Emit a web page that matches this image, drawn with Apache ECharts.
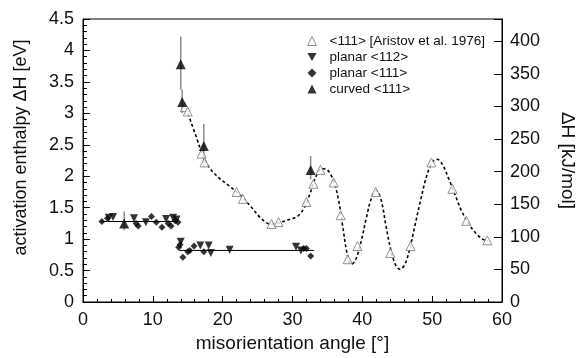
<!DOCTYPE html>
<html>
<head>
<meta charset="utf-8">
<script src="https://cdn.jsdelivr.net/npm/echarts@6/dist/echarts.min.js"></script>
<style>
  html, body { margin: 0; padding: 0; background: #fff; }
  #chart { width: 585px; height: 358px; }
</style>
</head>
<body>
<div id="chart"></div>
<script>
// <111> Aristov et al. 1976 (open triangles)
const aristovX = [14.6, 15.0, 17.0, 17.4, 22.0, 22.9, 27.0, 28.0, 32.0, 33.0, 34.0, 35.9, 36.9, 37.9, 39.3, 41.9, 44.0, 46.9, 49.9, 52.9, 54.9, 57.9];
const aristovY = [3.10, 3.03, 2.36, 2.22, 1.75, 1.64, 1.24, 1.27, 1.59, 1.88, 2.10, 1.90, 1.38, 0.68, 0.89, 1.75, 0.78, 0.89, 2.22, 1.80, 1.29, 0.98];

// dashed guide curve through the Aristov data
const fitX = [14.8, 15.5, 16.3, 17.0, 18.0, 19.5, 21.0, 22.5, 24.0, 25.5, 26.8, 28.0, 29.5, 30.8, 31.7, 32.5, 33.3, 34.2, 35.0, 35.9, 36.6, 37.2, 37.8, 38.4, 39.0, 39.8, 40.6, 41.3, 42.0, 42.7, 43.4, 44.1, 44.8, 45.4, 46.1, 46.8, 47.5, 48.3, 49.2, 50.0, 50.7, 51.5, 52.4, 53.3, 54.2, 55.2, 56.2, 57.2, 58.0];
const fitY = [3.08, 2.85, 2.60, 2.38, 2.15, 1.97, 1.84, 1.70, 1.52, 1.33, 1.24, 1.26, 1.31, 1.37, 1.50, 1.72, 1.98, 2.12, 2.10, 1.92, 1.62, 1.20, 0.78, 0.60, 0.66, 0.95, 1.35, 1.65, 1.77, 1.62, 1.20, 0.82, 0.58, 0.52, 0.60, 0.85, 1.20, 1.60, 2.00, 2.22, 2.27, 2.18, 1.95, 1.70, 1.45, 1.25, 1.10, 1.00, 0.97];

// planar <112> (down triangles)
const p112X = [3.7, 4.3, 7.3, 9.0, 11.9, 12.9, 13.4, 14.0, 16.8, 18.0, 18.3, 21.0, 30.5, 31.2];
const p112Y = [1.34, 1.35, 1.33, 1.27, 1.32, 1.34, 1.31, 0.96, 0.90, 0.90, 0.78, 0.83, 0.88, 0.82];

// planar <111> (diamonds)
const p111X = [2.7, 3.5, 7.6, 7.9, 9.8, 10.5, 11.3, 12.2, 12.6, 13.2, 13.6, 13.7, 13.9, 14.3, 15.0, 15.3, 15.9, 17.3, 31.6, 32.0, 32.6];
const p111Y = [1.28, 1.33, 1.25, 1.21, 1.36, 1.27, 1.19, 1.25, 1.21, 1.29, 1.27, 0.87, 0.91, 0.71, 0.80, 0.82, 0.89, 0.80, 0.85, 0.85, 0.73];

// mean levels of the planar boundaries
const levelLow = [[2.6, 1.28], [13.6, 1.28]];
const levelHigh = [[13.8, 0.82], [33.1, 0.82]];

// curved <111> (filled triangles) with error bars
const curvedX = [14.0, 14.2, 17.3, 5.9, 32.6];
const curvedY = [3.78, 3.18, 2.48, 1.25, 2.10];
const curvedLo = [3.38, 3.00, 2.15, 1.14, 1.95];
const curvedHi = [4.22, 3.38, 2.83, 1.44, 2.32];

const EV_TO_KJ = 96.485;
const font = 'Liberation Sans, Arial, sans-serif';
const downTri = 'path://M0,0 L10,0 L5,9 Z';

const zip = (xs, ys) => xs.map((x, i) => [x, ys[i]]);

const myEcharts = echarts.init(document.getElementById('chart'));
const option = {
    animation: false,
    textStyle: { fontFamily: font },
    grid: {
        left: 83,
        right: 76,
        top: 19,
        bottom: 54,
        show: true,
        borderColor: '#000',
        borderWidth: 1
    },
    legend: {
        orient: 'vertical',
        left: 307,
        top: 34,
        itemWidth: 9,
        itemHeight: 9,
        itemGap: 2,
        padding: 0,
        textStyle: { fontSize: 13.5, color: '#111', lineHeight: 14, fontFamily: font, padding: [0, 0, 0, 8] },
        data: [
            { name: '<111> [Aristov et al. 1976]', icon: 'triangle', itemStyle: { color: '#fff', borderColor: '#777', borderWidth: 1 } },
            { name: 'planar <112>', icon: downTri, itemStyle: { color: '#000' } },
            { name: 'planar <111>', icon: 'diamond', itemStyle: { color: '#000' } },
            { name: 'curved <111>', icon: 'triangle', itemStyle: { color: '#000' } }
        ]
    },
    xAxis: {
        type: 'value',
        min: 0,
        max: 60,
        interval: 10,
        name: 'misorientation angle [°]',
        nameLocation: 'middle',
        nameGap: 32,
        nameTextStyle: { fontSize: 19, color: '#111', fontFamily: font },
        axisLine: { lineStyle: { color: '#000' } },
        axisTick: { inside: true, length: 6, lineStyle: { color: '#000' } },
        minorTick: { show: true, splitNumber: 5, length: 3, lineStyle: { color: '#000' } },
        splitLine: { show: false },
        axisLabel: { fontSize: 18, color: '#111', margin: 9, fontFamily: font }
    },
    yAxis: [
        {
            type: 'value',
            min: 0,
            max: 4.5,
            interval: 0.5,
            name: 'activation enthalpy ΔH [eV]',
            nameLocation: 'middle',
            nameRotate: 90,
            nameGap: 53,
            nameTextStyle: { fontSize: 18, color: '#111', fontFamily: font, padding: [0, 0, 0, 26] },
            axisLine: { lineStyle: { color: '#000' } },
            axisTick: { inside: true, length: 7, lineStyle: { color: '#000' } },
            minorTick: { show: true, splitNumber: 5, length: 4, lineStyle: { color: '#000' } },
            splitLine: { show: false },
            axisLabel: { fontSize: 18, color: '#111', margin: 9, fontFamily: font }
        },
        {
            type: 'value',
            position: 'right',
            min: 0,
            max: 4.5 * EV_TO_KJ,
            interval: 50,
            name: 'ΔH [kJ/mol]',
            nameLocation: 'middle',
            nameRotate: -90,
            nameGap: 56,
            nameTextStyle: { fontSize: 19, color: '#111', fontFamily: font },
            axisLine: { lineStyle: { color: '#000' } },
            axisTick: { inside: true, length: 8, lineStyle: { color: '#000' } },
            splitLine: { show: false },
            axisLabel: {
                fontSize: 18,
                color: '#111',
                margin: 8,
                fontFamily: font,
                formatter: v => (Math.abs(v % 50) < 1e-6 ? String(v) : '')
            }
        }
    ],
    series: [
        {
            name: 'fit',
            type: 'line',
            data: zip(fitX, fitY),
            smooth: 0.35,
            symbol: 'none',
            lineStyle: { color: '#000', width: 1.6, type: [3, 2.5] },
            z: 2
        },
        {
            name: 'levelLow',
            type: 'line',
            data: levelLow,
            symbol: 'none',
            lineStyle: { color: '#000', width: 1 },
            z: 2
        },
        {
            name: 'levelHigh',
            type: 'line',
            data: levelHigh,
            symbol: 'none',
            lineStyle: { color: '#000', width: 1 },
            z: 2
        },
        {
            name: 'errorbars',
            type: 'custom',
            data: curvedX.map((x, i) => [x, curvedLo[i], curvedHi[i]]),
            renderItem: (params, api) => {
                const lo = api.coord([api.value(0), api.value(1)]);
                const hi = api.coord([api.value(0), api.value(2)]);
                return {
                    type: 'line',
                    shape: { x1: lo[0], y1: lo[1], x2: hi[0], y2: hi[1] },
                    style: { stroke: '#8a8a8a', lineWidth: 1.5 }
                };
            },
            z: 3
        },
        {
            name: '<111> [Aristov et al. 1976]',
            type: 'scatter',
            data: zip(aristovX, aristovY),
            symbol: 'triangle',
            symbolSize: 9,
            itemStyle: { color: '#fff', borderColor: '#777', borderWidth: 1 },
            z: 4
        },
        {
            name: 'planar <112>',
            type: 'scatter',
            data: zip(p112X, p112Y),
            symbol: 'triangle',
            symbolRotate: 180,
            symbolSize: 8,
            itemStyle: { color: '#000' },
            z: 5
        },
        {
            name: 'planar <111>',
            type: 'scatter',
            data: zip(p111X, p111Y),
            symbol: 'diamond',
            symbolSize: 7,
            itemStyle: { color: '#000' },
            z: 5
        },
        {
            name: 'curved <111>',
            type: 'scatter',
            data: zip(curvedX, curvedY),
            symbol: 'triangle',
            symbolSize: 10,
            itemStyle: { color: '#000' },
            z: 6
        }
    ]
};
myEcharts.setOption(option);
</script>
</body>
</html>
